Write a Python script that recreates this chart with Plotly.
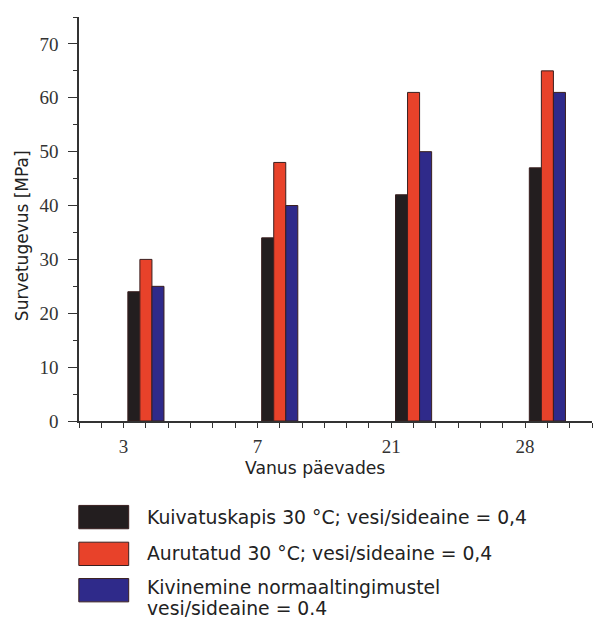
import plotly.graph_objects as go

categories = ["3", "7", "21", "28"]
series_names = [
    "Kuivatuskapis 30 °C; vesi/sideaine = 0,4",
    "Aurutatud 30 °C; vesi/sideaine = 0,4",
    "Kivinemine normaaltingimustel<br>vesi/sideaine = 0.4",
]
kuivatuskapis = [24, 34, 42, 47]
aurutatud = [30, 48, 61, 65]
kivinemine = [25, 40, 50, 61]
series_values = [kuivatuskapis, aurutatud, kivinemine]
colors = ["#231e1f", "#e8422a", "#2f2a8a"]

y_title = "Survetugevus [MPa]"
x_title = "Vanus päevades"

# layout geometry (axis units: one minor x tick per unit)
label_pos = [2 + 6 * i for i in range(len(categories))]
bar_pos = [p + 1 for p in label_pos]
bar_w = 0.54
offsets = [-1.5 * bar_w, -0.5 * bar_w, 0.5 * bar_w]

fig = go.Figure()
for name, vals, col, off in zip(series_names, series_values, colors, offsets):
    fig.add_trace(go.Bar(
        x=bar_pos, y=vals, width=bar_w, offset=off, name=name,
        marker=dict(color=col, line=dict(color="#3a1f1f", width=1)),
        showlegend=False,
    ))

L, R, T, B = 78.5, 13.5, 17.3, 198.3
W, H = 606, 619

tickvals = list(range(0, 24))
ticktext = []
for v in tickvals:
    if v in label_pos:
        ticktext.append(categories[label_pos.index(v)])
    else:
        ticktext.append("")

fig.update_layout(
    width=W, height=H,
    margin=dict(l=L, r=R, t=T, b=B, pad=0),
    paper_bgcolor="white", plot_bgcolor="white",
    barmode="overlay",
    xaxis=dict(
        range=[0, 23], tickmode="array", tickvals=tickvals, ticktext=ticktext,
        ticks="outside", ticklen=5, tickwidth=1.3, tickcolor="#333",
        showline=True, linecolor="#333", linewidth=1.5,
        showgrid=False, zeroline=False,
        tickfont=dict(family="Liberation Serif", size=19, color="#333"),
        ticklabelstandoff=2,
    ),
    yaxis=dict(
        range=[0, 75], tickmode="array", tickvals=[0, 10, 20, 30, 40, 50, 60, 70],
        ticks="outside", ticklen=9, tickwidth=1.3, tickcolor="#333",
        minor=dict(tickvals=[5, 15, 25, 35, 45, 55, 65, 75], ticks="outside", ticklen=4, tickwidth=1.3, tickcolor="#333"),
        showline=True, linecolor="#333", linewidth=1.5,
        showgrid=False, zeroline=False,
        tickfont=dict(family="Liberation Serif", size=19, color="#333"),
        ticklabelstandoff=6,
    ),
    showlegend=False,
)

pw = W - L - R
ph = H - T - B
def px2paper(x, y):
    # pixel from top-left -> paper coords
    return (x - L) / pw, ((H - y) - B) / ph

annotations = []
ax, ay = px2paper(315, 468)
annotations.append(dict(text=x_title, x=ax, y=ay, showarrow=False, borderpad=0,
                        font=dict(family="DejaVu Sans", size=17.2, color="#222"),
                        xanchor="center", yanchor="middle"))
ax, ay = px2paper(21.5, 236)
annotations.append(dict(text=y_title, x=ax, y=ay, textangle=-90, showarrow=False,
                        font=dict(family="DejaVu Sans", size=17, color="#222"),
                        xanchor="center", yanchor="middle"))

shapes = []
box_tops = [505, 541.7, 578]
line_ys = [[516.7], [553], [587, 608]]
for i, (name, col) in enumerate(zip(series_names, colors)):
    x0, y0 = px2paper(78.3, box_tops[i])
    x1, y1 = px2paper(128.3, box_tops[i] + 23.3)
    shapes.append(dict(type="rect", xref="paper", yref="paper", x0=x0, x1=x1, y0=y1, y1=y0,
                       fillcolor=col, line=dict(color="#3a1f1f", width=1)))
    for line_text, ly in zip(name.split("<br>"), line_ys[i]):
        tx, ty = px2paper(146, ly)
        annotations.append(dict(text=line_text, x=tx, y=ty, showarrow=False, borderpad=0,
                                xanchor="left", yanchor="middle", align="left",
                                font=dict(family="DejaVu Sans", size=18.8, color="#222")))

for a in annotations:
    a["xref"] = "paper"
    a["yref"] = "paper"

fig.update_layout(annotations=annotations, shapes=shapes)
fig.write_html("out.html")
